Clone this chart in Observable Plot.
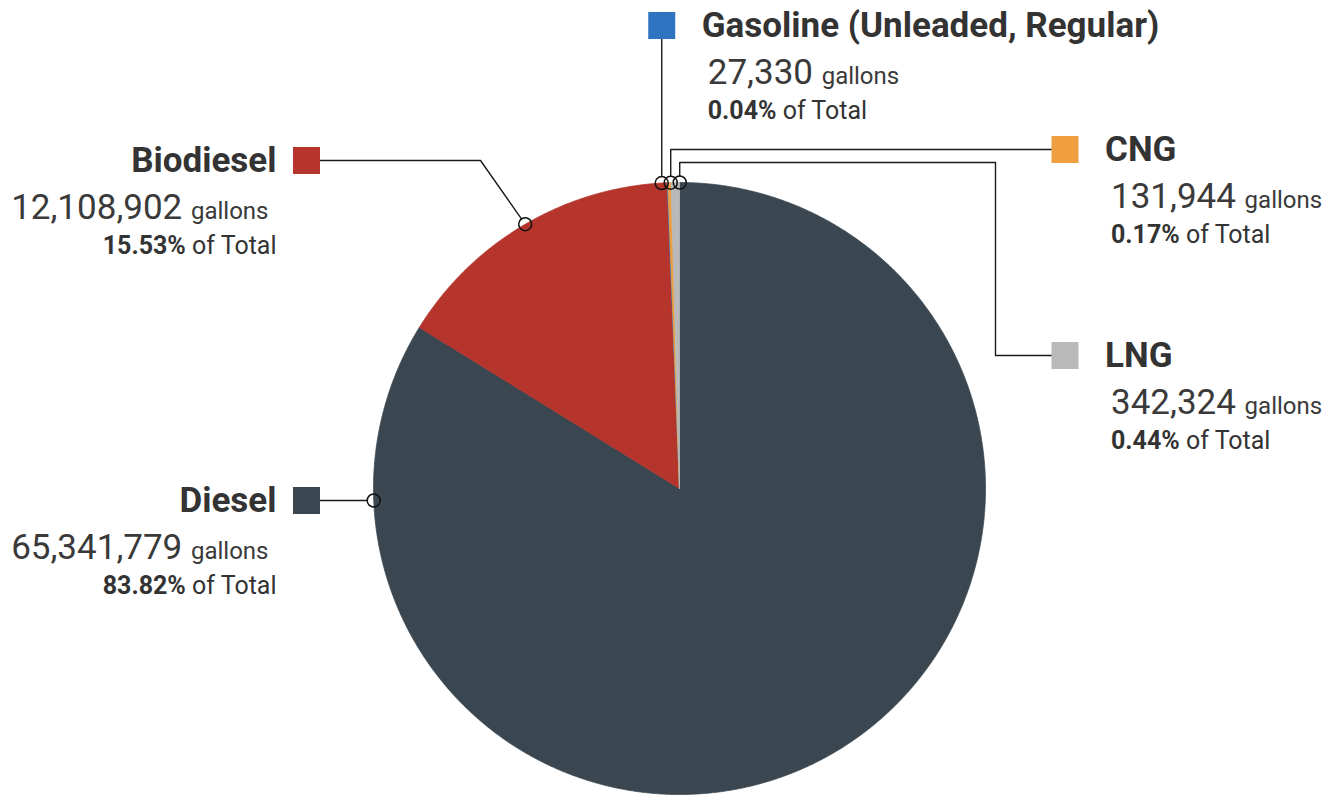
<!DOCTYPE html>
<html>
<head>
<meta charset="utf-8">
<script src="https://cdn.jsdelivr.net/npm/d3@7"></script>
<script src="https://cdn.jsdelivr.net/npm/@observablehq/plot@0.6"></script>
<style>
  html, body { margin: 0; padding: 0; background: #fff; }
  #chart svg { display: block; }
</style>
</head>
<body>
<div id="chart"></div>
<script>
// ---------------- data ----------------
const categories = ["Diesel", "Biodiesel", "Gasoline (Unleaded, Regular)", "CNG", "LNG"];
const gallons = [65341779, 12108902, 27330, 131944, 342324];
const colors = ["#3b4750", "#b5352d", "#2f74c0", "#ef9f40", "#b9b9b9"];

// ---------------- layout (annotation placement, px) ----------------
const W = 1336, H = 797;
const CX = 679, CY = 488, R = 306;
const labelSide = ["left", "left", "top", "right", "right"];
const labelSquareY = [500, 160, 25, 149, 355];
const labelRoute = [null, {elbowX: 480}, null, null, {routeX: 995, routeY: 162}];
const LEFT_SQ_X = 306, RIGHT_SQ_X = 1064.5, SQ = 27, DOT_R = 6.5;
const FONT = "Roboto, 'Open Sans', sans-serif";
const TEXT = "#333333";

// ---------------- derived ----------------
const total = d3.sum(gallons);
const rows = categories.map((name, i) => ({
  name, gallons: gallons[i], pct: (gallons[i] / total * 100).toFixed(2) + "%"
}));
const arcs = d3.pie().sort(null).value(d => d.gallons)(rows);
const px = t => CX + R * Math.sin(t);
const py = t => CY - R * Math.cos(t);

// slice polygons
const slicePts = [];
arcs.forEach(a => {
  const n = Math.max(2, Math.ceil((a.endAngle - a.startAngle) / (Math.PI / 720)));
  slicePts.push({name: a.data.name, x: CX, y: CY});
  for (let k = 0; k <= n; k++) {
    const t = a.startAngle + (a.endAngle - a.startAngle) * k / n;
    slicePts.push({name: a.data.name, x: px(t), y: py(t)});
  }
  slicePts.push({name: a.data.name, x: CX, y: CY});
});

// anchor angles on the rim
const anchorAngle = arcs.map((a, i) => {
  const mid = (a.startAngle + a.endAngle) / 2;
  const side = labelSide[i];
  const s = Math.sin(mid);
  if ((side === "left" && s > 0) || (side === "right" && s < 0)) {
    const c = Math.acos(Math.max(-1, Math.min(1, (CY - labelSquareY[i]) / R)));
    const t = side === "left" ? 2 * Math.PI - c : c;
    if (t >= a.startAngle && t <= a.endAngle) return t;
  }
  return mid;
});
// spread clustered anchors
const minGap = 9 / R;
const order = d3.range(arcs.length).sort((a, b) => anchorAngle[a] - anchorAngle[b]);
const groups = [];
let grp = [order[0]];
for (let k = 1; k < order.length; k++) {
  if (anchorAngle[order[k]] - anchorAngle[order[k - 1]] < minGap) grp.push(order[k]);
  else { groups.push(grp); grp = [order[k]]; }
}
groups.push(grp);
groups.forEach(g => {
  if (g.length < 2) return;
  const m = d3.mean(g, i => anchorAngle[i]);
  g.forEach((i, k) => anchorAngle[i] = m + (k - (g.length - 1) / 2) * minGap);
});
const anchors = rows.map((r, i) => ({name: r.name, x: px(anchorAngle[i]), y: py(anchorAngle[i])}));

// label boxes
const labels = rows.map((r, i) => {
  const side = labelSide[i];
  const sx = side === "left" ? LEFT_SQ_X : side === "right" ? RIGHT_SQ_X : anchors[i].x;
  const sy = labelSquareY[i];
  return {...r, side, sx, sy,
    tx: side === "left" ? sx - 30 : sx + 40,
    vx: side === "left" ? sx - 38 : sx + 46,
    px: side === "left" ? sx - 30 : sx + 46,
    value: d3.format(",")(r.gallons) + " gallons",
    pctText: r.pct + " of Total"};
});

// leader lines
const leaders = [];
labels.forEach((L, i) => {
  const A = anchors[i], rt = labelRoute[i];
  let pts;
  if (L.side === "top") pts = [[A.x, A.y], [A.x, L.sy + SQ / 2]];
  else if (L.side === "right") pts = rt
    ? [[A.x, A.y], [A.x, rt.routeY], [rt.routeX, rt.routeY], [rt.routeX, L.sy], [L.sx - SQ / 2, L.sy]]
    : [[A.x, A.y], [A.x, L.sy], [L.sx - SQ / 2, L.sy]];
  else pts = rt
    ? [[A.x, A.y], [rt.elbowX, L.sy], [L.sx + SQ / 2, L.sy]]
    : [[A.x, A.y], [L.sx + SQ / 2, L.sy]];
  const [x0, y0] = pts[0], [x1, y1] = pts[1];
  const len = Math.hypot(x1 - x0, y1 - y0);
  pts[0] = [x0 + (x1 - x0) / len * DOT_R, y0 + (y1 - y0) / len * DOT_R];
  pts.forEach(p => leaders.push({name: L.name, x: p[0], y: p[1]}));
});

const leftL = labels.filter(d => d.side === "left");
const rightL = labels.filter(d => d.side !== "left");

function textMarks(data, anchor) {
  return [
    Plot.text(data, {x: "tx", y: d => d.sy, text: "name", textAnchor: anchor, fontSize: 35,
      fontWeight: "bold", fill: TEXT, fontFamily: FONT, ariaDescription: "title"}),
    Plot.text(data, {x: "vx", y: d => d.sy + 47, text: "value", textAnchor: anchor, fontSize: 35,
      fontWeight: "normal", fill: "#3a3a3a", fontFamily: FONT, ariaDescription: "value"}),
    Plot.text(data, {x: "px", y: d => d.sy + 85, text: "pctText", textAnchor: anchor, fontSize: 25,
      fontWeight: "normal", fill: TEXT, fontFamily: FONT, ariaDescription: "pct"})
  ];
}

const svg = Plot.plot({
  width: W, height: H, margin: 0,
  x: {domain: [0, W], range: [0, W], axis: null},
  y: {domain: [0, H], range: [0, H], axis: null},
  color: {domain: categories, range: colors},
  style: {fontFamily: FONT, background: "#fff"},
  marks: [
    Plot.line(slicePts, {x: "x", y: "y", z: "name", fill: "name", stroke: "name", strokeWidth: 0.8, curve: "linear"}),
    Plot.line(leaders, {x: "x", y: "y", z: "name", stroke: "#1a1a1a", strokeWidth: 1.4, curve: "linear"}),
    Plot.dot(anchors, {x: "x", y: "y", r: DOT_R, stroke: "#111", strokeWidth: 1.5, fill: "none"}),
    Plot.dot(labels, {x: "sx", y: "sy", fill: "name", symbol: "square", r: SQ / Math.sqrt(Math.PI)}),
    ...textMarks(leftL, "end"),
    ...textMarks(rightL, "start")
  ]
});

// rich text: split into styled parts
const NS = "http://www.w3.org/2000/svg";
function rich(label, style1, style2, keepSpaceFirst) {
  svg.querySelectorAll(`g[aria-description="${label}"] text`).forEach(el => {
    const s = el.textContent;
    const k = s.indexOf(" ");
    const a = keepSpaceFirst ? s.slice(0, k + 1) : s.slice(0, k);
    const b = keepSpaceFirst ? s.slice(k + 1) : s.slice(k);
    el.textContent = "";
    el.setAttribute("xml:space", "preserve");
    el.style.whiteSpace = "pre";
    const t1 = document.createElementNS(NS, "tspan");
    t1.textContent = a;
    Object.entries(style1).forEach(([k2, v]) => t1.setAttribute(k2, v));
    const t2 = document.createElementNS(NS, "tspan");
    t2.textContent = b;
    Object.entries(style2).forEach(([k2, v]) => t2.setAttribute(k2, v));
    el.appendChild(t1); el.appendChild(t2);
  });
}
rich("value", {}, {"font-size": 24}, true);
rich("pct", {"font-weight": "bold"}, {}, false);

document.getElementById("chart").appendChild(svg);
</script>
</body>
</html>
